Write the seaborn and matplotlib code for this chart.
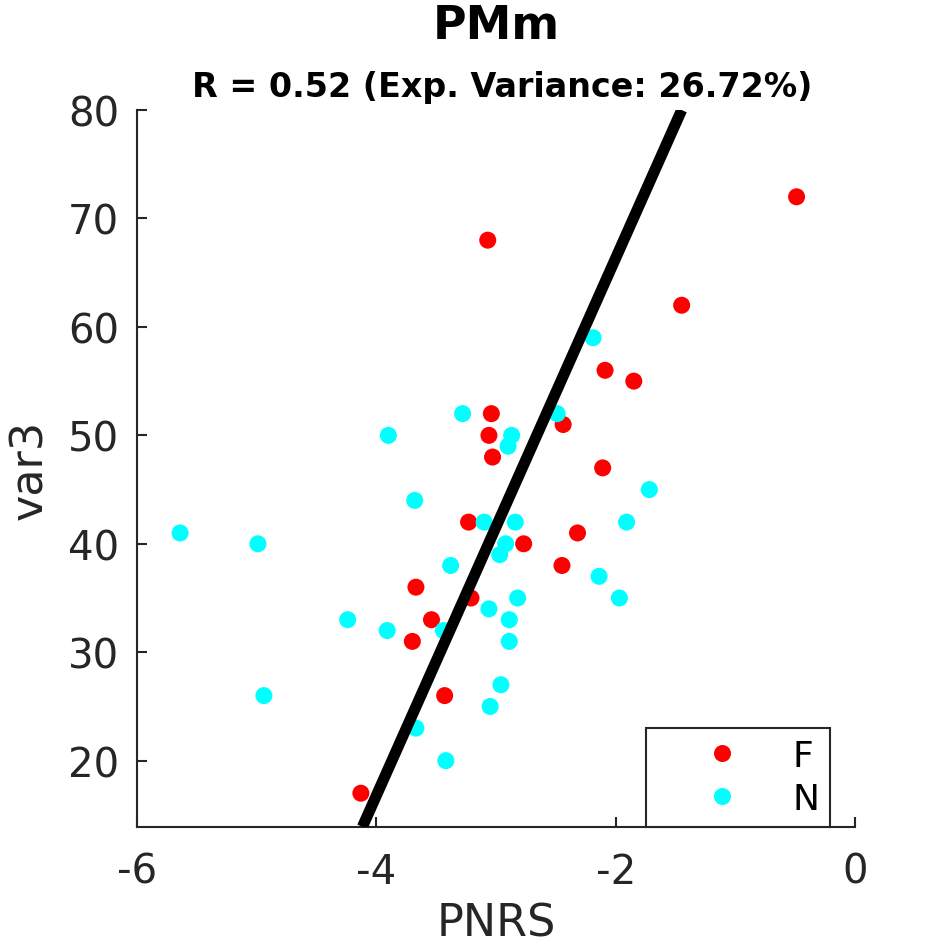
import numpy as np
import pandas as pd
import matplotlib
matplotlib.use("Agg")
import matplotlib.pyplot as plt
import seaborn as sns

# group F (red)
pnrs_f = [-0.49, -3.07, -1.45, -2.09, -1.85, -3.04, -2.44, -3.06, -3.03, -2.11,
          -3.23, -2.32, -2.77, -2.45, -3.67, -3.21, -3.54, -3.70, -3.43, -4.13]
var3_f = [72, 68, 62, 56, 55, 52, 51, 50, 48, 47,
          42, 41, 40, 38, 36, 35, 33, 31, 26, 17]

# group N (cyan)
pnrs_n = [-2.19, -3.28, -3.90, -2.49, -2.87, -2.90, -5.64, -4.99, -3.68, -1.72,
          -1.91, -3.10, -2.84, -2.92, -2.97, -3.38, -2.14, -1.97, -2.82, -3.06,
          -2.89, -4.24, -3.91, -3.44, -2.89, -2.96, -4.94, -3.05, -3.67, -3.42]
var3_n = [59, 52, 50, 52, 50, 49, 41, 40, 44, 45,
          42, 42, 42, 40, 39, 38, 37, 35, 35, 34,
          33, 33, 32, 32, 31, 27, 26, 25, 23, 20]

title = "PMm"
subtitle = "R = 0.52 (Exp. Variance: 26.72%)"

df = pd.DataFrame({
    "PNRS": pnrs_f + pnrs_n,
    "var3": var3_f + var3_n,
    "group": ["F"] * len(pnrs_f) + ["N"] * len(pnrs_n),
})

sns.set_theme(style="ticks")
plt.rcParams["font.family"] = ["DejaVu Sans"]
plt.rcParams["axes.unicode_minus"] = False

fig = plt.figure(figsize=(9.45, 9.45), dpi=100)
ax = fig.add_axes([0.145, 0.124, 0.76, 0.7585])

sns.scatterplot(data=df, x="PNRS", y="var3", hue="group",
                palette={"F": "red", "N": "cyan"}, s=150, linewidth=0,
                ax=ax, zorder=2)

ylim = (13.9, 80)
# fit PNRS as a function of var3, drawn over the y range
b, a = np.polyfit(df["var3"], df["PNRS"], 1)
ys = np.array(ylim)
ax.plot(a + b * ys, ys, color="black", lw=8, zorder=3, solid_capstyle="butt")

ax.set_xlim(-6, 0)
ax.set_ylim(*ylim)
ax.set_xticks([-6, -4, -2, 0])
ax.set_yticks([20, 30, 40, 50, 60, 70, 80])
ax.tick_params(direction="in", length=7, width=1.5, labelsize=29,
               colors="#262626")
ax.tick_params(axis="x", pad=18)
ax.tick_params(axis="y", pad=13)
for sp in ["left", "bottom"]:
    ax.spines[sp].set_linewidth(1.5)
    ax.spines[sp].set_color("#262626")
sns.despine(ax=ax)
ax.set_xlabel("PNRS", fontsize=32, color="#262626", labelpad=7)
ax.set_ylabel("var3", fontsize=32, color="#262626", labelpad=12)

fig.text(0.525, 0.972, title, ha="center", va="center", fontsize=33,
         fontweight="bold", color="black")
fig.text(0.531, 0.907, subtitle, ha="center", va="center", fontsize=24,
         fontweight="bold", color="black")

leg = ax.legend(loc="lower right", bbox_to_anchor=(0.965, 0.0),
                borderaxespad=0, fontsize=26, markerscale=1.0,
                handletextpad=0.15, borderpad=0.3, labelspacing=0.25,
                fancybox=False, framealpha=1, handlelength=3.6)
leg.get_frame().set_edgecolor("#262626")
leg.get_frame().set_linewidth(1.5)
for t in leg.get_texts():
    t.set_color("black")

fig.savefig("out.png", dpi=100)
